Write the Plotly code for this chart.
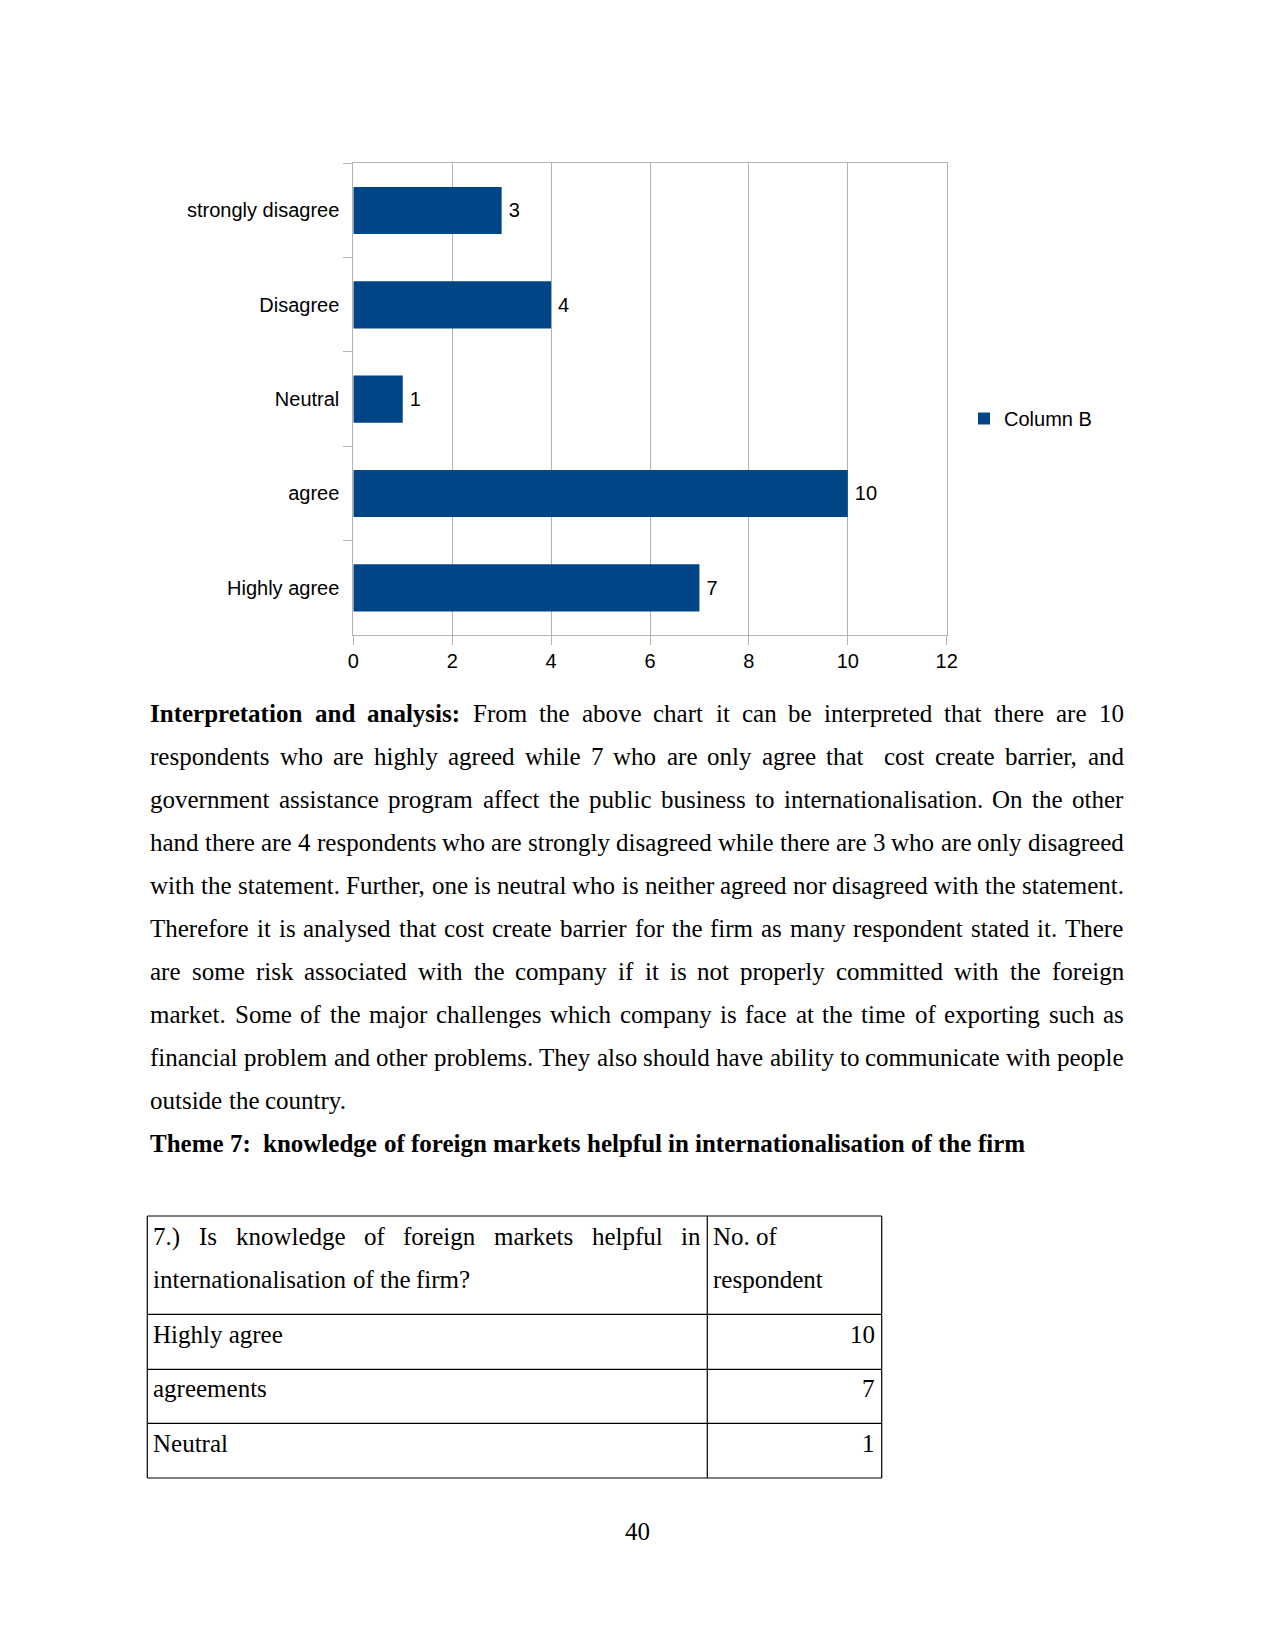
import plotly.graph_objects as go

W, H = 1275, 1650

# ---------------- chart data ----------------
categories = ["Highly agree", "agree", "Neutral", "Disagree", "strongly disagree"]
values = [7, 10, 1, 4, 3]
series_name = "Column B"
x_ticks = [0, 2, 4, 6, 8, 10, 12]

# ---------------- table data ----------------
table_q_lines = ["7.) Is knowledge of foreign markets helpful in", "internationalisation of the firm?"]
table_h_lines = ["No. of", "respondent"]
table_rows = ["Highly agree", "agreements", "Neutral"]
table_counts = [10, 7, 1]

# ---------------- page text ----------------
para_lines = [
    ("Interpretation and analysis: From the above chart it can be interpreted that there are 10", True, 3),
    ("respondents who are highly agreed while 7 who are only agree that  cost create barrier, and", True, 0),
    ("government assistance program affect the public business to internationalisation. On the other", True, 0),
    ("hand there are 4 respondents who are strongly disagreed while there are 3 who are only disagreed", True, 0),
    ("with the statement. Further, one is neutral who is neither agreed nor disagreed with the statement.", True, 0),
    ("Therefore it is analysed that cost create barrier for the firm as many respondent stated it. There", True, 0),
    ("are some risk associated with the company if it is not properly committed with the foreign", True, 0),
    ("market. Some of the major challenges which company is face at the time of exporting such as", True, 0),
    ("financial problem and other problems. They also should have ability to communicate with people", True, 0),
    ("outside the country.", False, 0),
]
theme_line = "Theme 7:  knowledge of foreign markets helpful in internationalisation of the firm"
page_number = "40"

# Times / Liberation Serif advance widths (1/1000 em)
REG = dict(zip("abcdefghijklmnopqrstuvwxyz",
               [444, 500, 444, 500, 444, 333, 500, 500, 278, 278, 500, 278, 778, 500, 500, 500, 500, 333, 389, 278, 500, 500, 722, 500, 500, 444]))
REG.update(zip("ABCDEFGHIJKLMNOPQRSTUVWXYZ",
               [722, 667, 667, 722, 611, 556, 722, 722, 333, 389, 722, 611, 889, 722, 722, 556, 722, 667, 556, 611, 722, 722, 944, 722, 722, 611]))
REG.update({d: 500 for d in "0123456789"})
REG.update({" ": 250, ".": 250, ",": 250, ":": 278, "?": 444, "(": 333, ")": 333})
BOLD = dict(zip("abcdefghijklmnopqrstuvwxyz",
                [500, 556, 444, 556, 444, 333, 500, 556, 278, 333, 556, 278, 833, 556, 500, 556, 556, 444, 389, 333, 556, 500, 722, 500, 500, 444]))
BOLD.update(zip("ABCDEFGHIJKLMNOPQRSTUVWXYZ",
                [722, 667, 722, 722, 667, 611, 778, 778, 389, 500, 778, 667, 944, 722, 778, 611, 778, 722, 556, 667, 722, 722, 1000, 722, 722, 667]))
BOLD.update({d: 500 for d in "0123456789"})
BOLD.update({" ": 250, ".": 250, ",": 250, ":": 333, "?": 500, "(": 333, ")": 333})

FS = 25
SERIF = "Liberation Serif"
SANS = "Liberation Sans"


def px(x):
    return x / W


def py(y):
    return 1 - y / H


def wwidth(word, bold, fs=FS):
    tbl = BOLD if bold else REG
    return sum(tbl.get(c, 500) for c in word) * fs / 1000.0


annotations = []


def text_ann(txt, x, baseline, anchor="left", bold=False, fs=FS):
    annotations.append(dict(
        text=txt, x=px(x), y=py(baseline - 0.3375 * fs), xref="paper", yref="paper",
        xanchor=anchor, yanchor="middle", showarrow=False, borderpad=0,
        font=dict(family=SERIF, size=fs, color="black", weight="bold" if bold else "normal"),
    ))


def place_line(line, left, right, baseline, justify, n_bold=0, all_bold=False):
    words = line.split(" ")
    flags = [all_bold or (i < n_bold) for i in range(len(words))]
    n_sp = len(words) - 1
    nat = sum(wwidth(w, b) for w, b in zip(words, flags)) + n_sp * 250 * FS / 1000.0
    gap = 250 * FS / 1000.0
    if justify and n_sp > 0:
        gap += (right - left - nat) / n_sp
    x = left
    for w, b in zip(words, flags):
        if w:
            text_ann(w, x, baseline, "left", b)
        x += wwidth(w, b) + gap


# paragraph
LEFT, RIGHT = 149.2, 1122.8
BASE0, STEP = 721.7, 43.07
for i, (ln, just, nb) in enumerate(para_lines):
    place_line(ln, LEFT, RIGHT, BASE0 + i * STEP, just, n_bold=nb)
place_line(theme_line, LEFT, RIGHT, BASE0 + len(para_lines) * STEP, False, all_bold=True)

# table
tx0, tx1, tx2 = 147.3, 707.3, 881.7
ty = [1216, 1314.3, 1369.3, 1423.3, 1478]
shapes = []
for y in ty:
    shapes.append(dict(type="line", xref="paper", yref="paper", x0=px(tx0), x1=px(tx2), y0=py(y), y1=py(y),
                       line=dict(color="black", width=1.2)))
for x in (tx0, tx1, tx2):
    shapes.append(dict(type="line", xref="paper", yref="paper", x0=px(x), x1=px(x), y0=py(ty[0]), y1=py(ty[-1]),
                       line=dict(color="black", width=1.2)))

CL = 152.3
place_line(table_q_lines[0], CL, 699.5, 1245.0, True)
place_line(table_q_lines[1], CL, 699.5, 1288.3, False)
text_ann(table_h_lines[0], 712.3, 1245.0)
text_ann(table_h_lines[1], 712.3, 1288.3)
for lab, cnt, b in zip(table_rows, table_counts, [1342.7, 1396.7, 1451.7]):
    text_ann(lab, CL, b)
    text_ann(str(cnt), 875.8, b, anchor="right")

text_ann(page_number, 637.5, 1540.0, anchor="center")

# ---------------- chart ----------------
GRID = "#b3b3b3"
fig = go.Figure()
fig.add_trace(go.Bar(
    y=categories, x=values, orientation="h", name=series_name,
    marker=dict(color="#004586", line=dict(width=0)),
    text=values, texttemplate="\u2009%{x}", textposition="outside",
    textfont=dict(family=SANS, size=20, color="black"), cliponaxis=False,
    showlegend=True,
))

fig.update_layout(
    width=W, height=H, autosize=False,
    margin=dict(l=0, r=0, t=0, b=0, pad=0),
    paper_bgcolor="white", plot_bgcolor="white",
    template="none",
    bargap=0.5,
    font=dict(family=SANS, size=20, color="black"),
    xaxis=dict(
        domain=[px(353.3), px(946.7)], range=[0, 12], tickvals=x_ticks,
        showgrid=True, gridcolor=GRID, gridwidth=1,
        showline=True, linecolor=GRID, linewidth=1, mirror=True,
        ticks="outside", ticklen=9, tickcolor=GRID, tickwidth=1,
        zeroline=False, tickfont=dict(family=SANS, size=20, color="black"),
        ticklabelstandoff=-1,
    ),
    yaxis=dict(
        domain=[py(635), py(163.3)], type="category",
        categoryorder="array", categoryarray=categories,
        tickson="boundaries", ticks="outside", ticklen=9, tickcolor=GRID, tickwidth=1,
        showline=True, linecolor=GRID, linewidth=1, mirror=True,
        showgrid=False, zeroline=False,
        tickfont=dict(family=SANS, size=20, color="black"),
        ticklabelstandoff=9,
    ),
    showlegend=True,
    legend=dict(x=px(964), y=py(418.5), xanchor="left", yanchor="middle",
                bgcolor="rgba(0,0,0,0)", borderwidth=0,
                font=dict(family=SANS, size=20, color="black")),
    annotations=annotations,
    shapes=shapes,
)

fig.write_html("out.html")
